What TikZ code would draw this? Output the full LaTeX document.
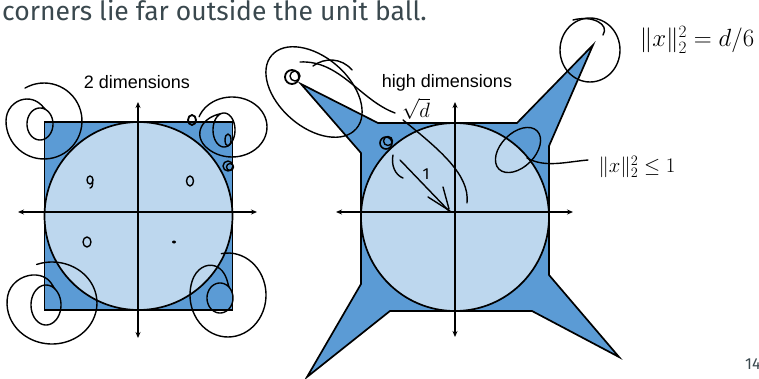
\documentclass[tikz,border=0pt]{standalone}
\usepackage{fontspec}
\setmainfont{Fira Sans}
\newfontfamily\arialfont{Liberation Sans}
\usetikzlibrary{arrows.meta}
\definecolor{cornerblue}{RGB}{91,155,213}
\definecolor{ballblue}{RGB}{189,215,238}
\definecolor{slidetext}{RGB}{58,72,78}
\begin{document}
\begin{tikzpicture}[x=1pt,y=-1pt,
  declare function={fs(\t)=(\t<300)?1:((\t<420)?(0.5+0.5*cos((\t-300)*1.5)):0);},
  outline/.style={draw=black, line width=1.7pt, line join=miter},
  axis/.style={line width=1.3pt, {Stealth[length=6pt,width=5pt]}-{Stealth[length=6pt,width=5pt]}},
  hand/.style={line width=1.4pt, line cap=round, line join=round},
  dimlabel/.style={font=\arialfont\fontsize{18}{20}\selectfont, inner sep=0pt},
  handtext/.style={inner sep=0pt},
]
\useasboundingbox (0,0) rectangle (759,379);

% title and page number
\node[anchor=base west, font=\fontsize{26.5}{30}\selectfont, text=slidetext, inner sep=0pt] (title) at (2,21) {corners lie far outside the unit ball.};
\node[anchor=base west, font=\fontsize{16}{18}\selectfont, text=slidetext, inner sep=0pt] (page) at (745,369) {14};

% ---------- left: 2 dimensions ----------
\fill[cornerblue] (44.5,122) rectangle (232.5,310);
\draw[outline, fill=ballblue] (138.5,216) circle[radius=94pt];
\draw[outline] (44.5,122) rectangle (232.5,310);
\draw[axis] (18,212) -- (257,212);
\draw[axis] (138,102) -- (138,338);
\node[dimlabel] (dimtwo) at (137,82) {2 dimensions};

% ---------- right: high dimensions ----------
\draw[outline, fill=cornerblue] (301,84) -- (378,123) -- (517,123) -- (593,45) -- (549,146) -- (549,275) -- (619,357) -- (532,311) -- (390,311) -- (307,377) -- (361,284) -- (361,153) -- cycle;
\draw[outline, fill=ballblue] (455,217) circle[radius=94pt];
\draw[axis] (336,212) -- (573,212);
\draw[axis] (455,102) -- (455,337);
\node[dimlabel] (dimhigh) at (447,83) {high dimensions};

% ---------- handwriting, left (spirals at the corners) ----------
\draw[hand] plot[smooth, domain=0:790, samples=130] ({40 + 4*fs(\x) + (13+25*fs(\x))*cos(\x-120)}, {124 - 3*fs(\x) + (16+22*fs(\x))*sin(\x-120)});
\draw[hand] plot[smooth, domain=0:790, samples=130] ({224 + 8*fs(\x) + (11+24*fs(\x))*cos(\x+200)}, {130 - 3*fs(\x) + (17+13*fs(\x))*sin(\x+200)});
\draw[hand] plot[smooth, domain=0:790, samples=130] ({46 + 6*fs(\x) + (15+30*fs(\x))*cos(\x-110)}, {305 - 2*fs(\x) + (20+21*fs(\x))*sin(\x-110)});
\draw[hand] plot[smooth, domain=0:790, samples=130] ({220 + 8*fs(\x) + (13+25*fs(\x))*cos(\x-100)}, {298 - 3*fs(\x) + (15+27*fs(\x))*sin(\x-100)});
\draw[hand] (228,140) ellipse[x radius=3pt, y radius=6pt];
\draw[hand, line width=1.8pt] (192,120) ellipse[x radius=4pt, y radius=5pt];
\draw[hand] (228,166) circle[radius=5pt];
\draw[hand] (230,167) circle[radius=3.5pt];
\draw[hand] (90,180) ellipse[x radius=3pt, y radius=4pt];
\draw[hand] (92.5,181) .. controls (93,185) and (92,188) .. (90,188);
\draw[hand] (190,181) ellipse[x radius=3.5pt, y radius=5pt];
\draw[hand] (87,242) ellipse[x radius=4pt, y radius=5pt];
\fill (174,242) ellipse[x radius=2pt, y radius=1.5pt];

% ---------- handwriting, right ----------
\draw[hand, line width=1.8pt] (292,77) circle[radius=7pt];
\draw[hand] (295,76) circle[radius=5pt];
\draw[hand, rotate around={-41:(314,92)}] (314,92) ellipse[x radius=56pt, y radius=35pt];
\draw[hand] (300,62) .. controls (340,60) and (360,100) .. (395,113);
\draw[hand] (313,66) .. controls (325,57) and (342,58) .. (352,70);
\draw[hand, line width=1.6pt] (386,143) circle[radius=6pt];
\draw[hand] (388,141) circle[radius=4.5pt];
\draw[hand] (393,155) .. controls (391,165) and (395,175) .. (403,178);
\draw[hand] (400,160) -- (450,212);
\draw[hand] (428,197) -- (450,211);
\draw[hand] (443,187) -- (449,209);
\draw[hand] (403,120) .. controls (440,150) and (470,175) .. (467,203);
\node[handtext, font=\fontsize{16}{16}\selectfont] (one) at (426,174) {1};
\node[handtext, font=\fontsize{22}{24}\selectfont] (sqrtd) at (416,109) {$\sqrt{d}$};
\draw[hand] (590,50) ellipse[x radius=30pt, y radius=32pt];
\draw[hand] (573,20) .. controls (592,15) and (610,24) .. (603,35);
\draw[hand, rotate around={45:(518,150)}] (518,150) ellipse[x radius=27pt, y radius=17pt];
\draw[hand] (527,158) .. controls (545,168) and (565,162) .. (588,160);
\node[handtext, font=\fontsize{26}{30}\selectfont] (normd) at (697,40) {$\|x\|_2^2 = d/6$};
\node[handtext, font=\fontsize{22}{26}\selectfont] (normle) at (637,167) {$\|x\|_2^2 \le 1$};
\end{tikzpicture}
\end{document}
